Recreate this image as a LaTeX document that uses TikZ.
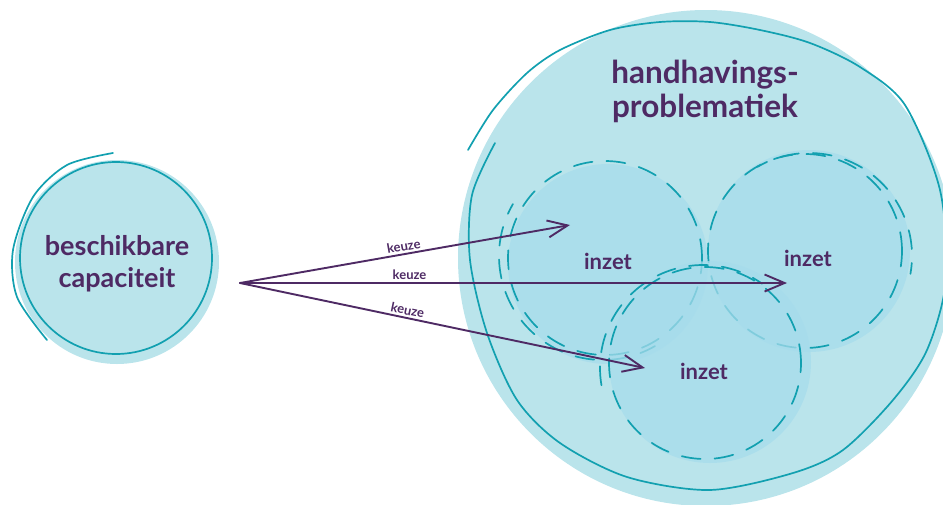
\documentclass[tikz,border=0pt]{standalone}
\usepackage{color}
\usepackage{fontspec}
\setmainfont{Lato}
\usetikzlibrary{arrows.meta}

\definecolor{paars}{RGB}{78,42,100}
\definecolor{zeeblauw}{RGB}{18,160,176}
\definecolor{licht}{RGB}{186,228,235}
\definecolor{binnen}{RGB}{166,220,236}

\begin{document}
\begin{tikzpicture}[x=1pt, y=-1pt, line cap=round,
  lijn/.style={draw=zeeblauw, line width=1.7pt},
  streep/.style={draw=zeeblauw, line width=1.7pt, dash pattern=on 19pt off 14pt},
  vlak/.style={fill=binnen, fill opacity=0.75},
  pijl/.style={draw=paars, line width=1.9pt, -{Straight Barb[length=20pt,width=17pt,line width=1.9pt]}},
  keuzetekst/.style={text=paars, font=\fontsize{13}{13}\selectfont\bfseries, sloped, above, inner sep=2pt},
  inzettekst/.style={text=paars, font=\fontsize{22}{22}\selectfont\bfseries}]
  \useasboundingbox (0,0) rectangle (943,504); % 画像の大きさ

  % 左の円
  \fill[licht] (117,262) circle (102pt);
  \draw[lijn] (116,258) circle (96pt);
  \draw[lijn] plot[smooth] coordinates {(113,153) (67,165) (33,197) (13,250) (17,297) (47,340)}; % はみ出した線
  \node[text=paars, font=\fontsize{27}{32}\selectfont\bfseries, align=center] (capaciteit) at (117,264) {beschikbare\\capaciteit};

  % 右の大きな円
  \fill[licht] (706,258) circle (248pt);
  \draw[lijn] plot[smooth] coordinates {(495,143) (472,195) (470,260) (487,333) (517,400) (560,443) (627,477) (710,490) (793,473) (843,450) (893,400) (927,350) (946,280) (940,190) (905,105) (860,67) (810,43) (760,30) (710,22) (660,22) (610,30) (560,50) (527,73) (493,110) (468,150)}; % 手書き風の輪郭
  \node[text=paars, font=\fontsize{31.5}{34}\selectfont\bfseries, align=center] (probleem) at (705,91) {handhavings-\\problematiek};

  % 三つの小さい円、破線は渦巻き風
  \fill[vlak] (608,264) circle (100pt);
  \draw[streep] (605,258) circle (97pt);
  \draw[streep, dash phase=8pt] ([shift={(150:104pt)}]603,256) arc[start angle=150, end angle=300, radius=104pt];
  \fill[vlak] (809,251) circle (101pt);
  \draw[streep] (805,251) circle (97pt);
  \draw[streep, dash phase=8pt] ([shift={(-10:103pt)}]809,256) arc[start angle=-10, end angle=120, radius=103pt];
  \fill[vlak] (710,362) circle (101pt);
  \draw[streep] (705,363) circle (96pt);
  \draw[streep, dash phase=8pt] ([shift={(55:103pt)}]703,368) arc[start angle=55, end angle=190, radius=103pt];

  \node[inzettekst] (inzetA) at (608,261) {inzet};
  \node[inzettekst] (inzetB) at (808,258) {inzet};
  \node[inzettekst] (inzetC) at (704,371) {inzet};

  % 矢印
  \coordinate (bron) at (240,283);
  \coordinate (doelA) at (570,225);
  \coordinate (doelB) at (787,283);
  \coordinate (doelC) at (645,368);
  \draw[pijl] (bron) -- (doelA) node[keuzetekst, pos=0.5] {keuze};
  \draw[pijl] (bron) -- (doelB) node[keuzetekst, pos=0.31] {keuze};
  \draw[pijl] (bron) -- (doelC) node[keuzetekst, pos=0.41] {keuze};
\end{tikzpicture}
\end{document}
